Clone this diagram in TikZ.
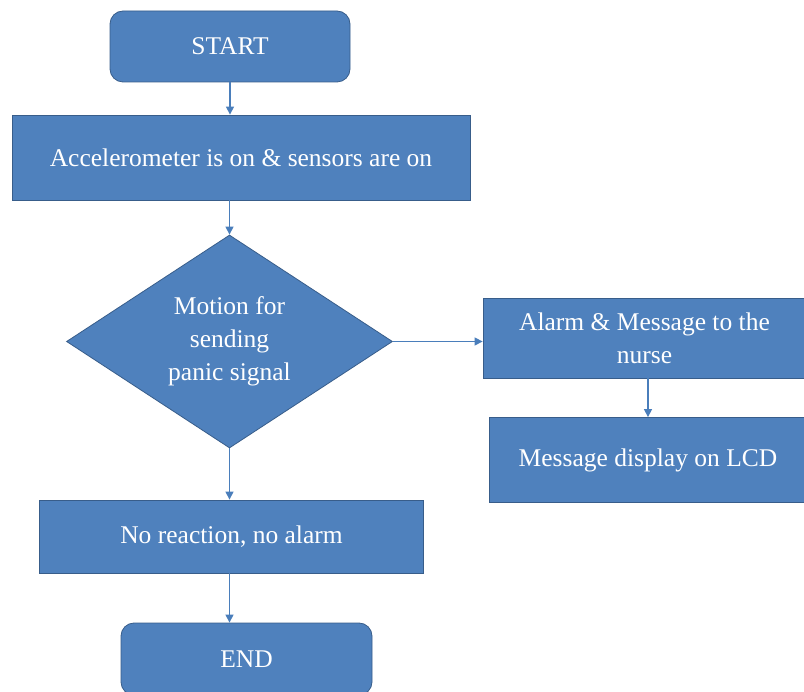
\documentclass[tikz,border=0pt]{standalone}
\usepackage{fontspec}
\setmainfont{Liberation Serif}
\usetikzlibrary{shapes.geometric,arrows.meta}
\definecolor{boxfill}{HTML}{4F81BD}
\definecolor{boxline}{HTML}{385D8A}
\definecolor{arrowc}{HTML}{4A7EBB}
\tikzset{
  base/.style={fill=boxfill, draw=boxline, line width=0.8pt, text=white, inner sep=0pt, align=center,
    font=\fontsize{25.5}{33}\selectfont},
  rbox/.style={base, rectangle},
  termbox/.style={base, rectangle, rounded corners=13pt},
  decbox/.style={base, diamond},
  conn/.style={draw=arrowc, line width=1.3pt, -{Triangle[width=8pt,length=8pt]}}
}
\begin{document}
\begin{tikzpicture}[x=1pt,y=-1pt]
\useasboundingbox (0,0) rectangle (804,692);
\node[termbox, minimum width=240pt, minimum height=71pt] (start) at (230,46.5) {START};
\node[rbox, minimum width=458pt, minimum height=85pt] (accel) at (241,157.5) {Accelerometer is on \& sensors are on};
\node[decbox, minimum width=326pt, minimum height=213pt] (dia) at (229.5,341.5) {Motion for\\sending\\panic signal};
\node[rbox, minimum width=323pt, minimum height=80pt] (alarm) at (644.5,338) {Alarm \& Message to the\\nurse};
\node[rbox, minimum width=318pt, minimum height=85pt] (lcd) at (648,460) {Message display on LCD};
\node[rbox, minimum width=384pt, minimum height=73pt] (noreact) at (231.5,536.5) {No reaction, no alarm};
\node[termbox, minimum width=251pt, minimum height=72pt] (end) at (246.5,659) {END};
\draw[conn] (start.south) -- (start.south |- accel.north);
\draw[conn] (accel.south -| dia.north) -- (dia.north);
\draw[conn] (dia.east) -- (dia.east -| alarm.west);
\draw[conn] (alarm.south -| lcd.north) -- (lcd.north);
\draw[conn] (dia.south) -- (dia.south |- noreact.north);
\draw[conn] (noreact.south -| dia.south) -- (dia.south |- end.north);
\end{tikzpicture}
\end{document}
